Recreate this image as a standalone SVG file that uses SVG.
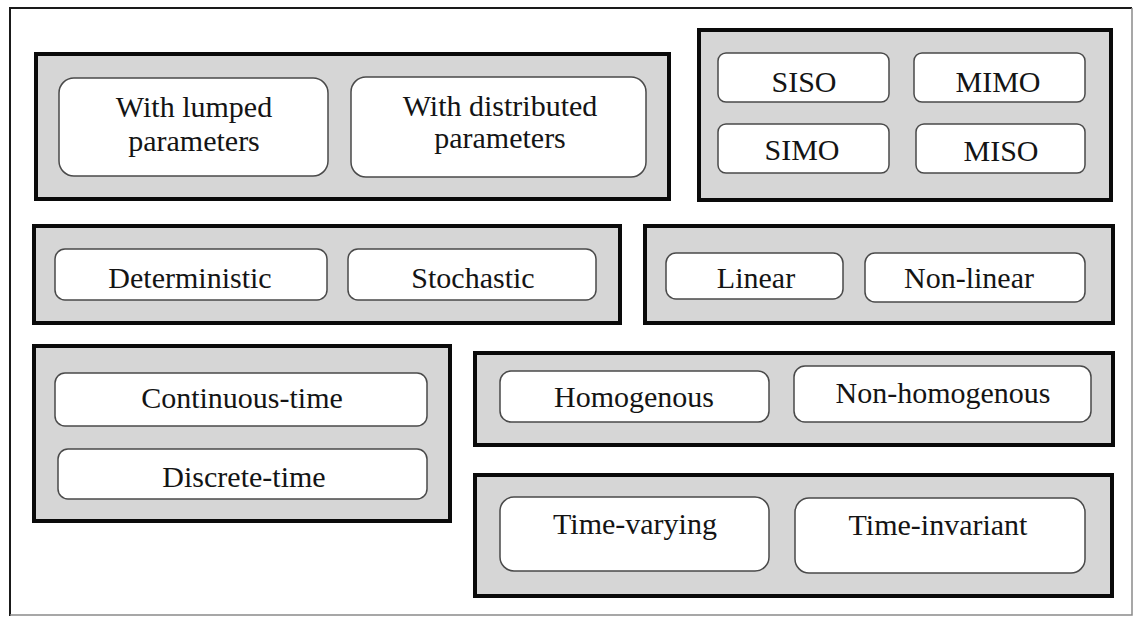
<svg xmlns="http://www.w3.org/2000/svg" width="1136" height="618" viewBox="0 0 1136 618">
  <style>
    .frame-dark { stroke: #1a1a1a; stroke-width: 2; fill: none; }
    .frame-light { stroke: #8a8a8a; stroke-width: 1.5; fill: none; }
    .group { fill: #d6d6d6; stroke: #0a0a0a; stroke-width: 4; }
    .item { fill: #ffffff; stroke: #4a4a4a; stroke-width: 1.5; }
    text { font-family: 'Liberation Serif', 'Times New Roman', serif; font-size: 30px; fill: #141414; text-anchor: middle; }
  </style>

  <rect x="0" y="0" width="1136" height="618" fill="#ffffff"/>

  <!-- outer frame -->
  <g id="frame">
    <path class="frame-dark" d="M10,616 L10,8 L1132,8"/>
    <path class="frame-light" d="M1132,8 L1132,615 L10,615"/>
  </g>

  <!-- parameter type -->
  <g id="group-parameters">
    <rect class="group" x="36" y="54" width="633" height="145"/>
    <g id="node-lumped">
      <rect class="item" x="59" y="78" width="269" height="98" rx="15"/>
      <text x="194" y="117">With lumped</text>
      <text x="194" y="151">parameters</text>
    </g>
    <g id="node-distributed">
      <rect class="item" x="351" y="77" width="295" height="100" rx="15"/>
      <text x="500" y="116">With distributed</text>
      <text x="500" y="148">parameters</text>
    </g>
  </g>

  <!-- input / output count -->
  <g id="group-io">
    <rect class="group" x="699" y="30" width="412" height="170"/>
    <g id="node-siso">
      <rect class="item" x="718" y="53" width="171" height="49" rx="8"/>
      <text x="804" y="92">SISO</text>
    </g>
    <g id="node-mimo">
      <rect class="item" x="914" y="53" width="171" height="49" rx="8"/>
      <text x="998" y="92">MIMO</text>
    </g>
    <g id="node-simo">
      <rect class="item" x="718" y="124" width="171" height="49" rx="8"/>
      <text x="802" y="160">SIMO</text>
    </g>
    <g id="node-miso">
      <rect class="item" x="916" y="124" width="169" height="49" rx="8"/>
      <text x="1001" y="161">MISO</text>
    </g>
  </g>

  <!-- randomness -->
  <g id="group-randomness">
    <rect class="group" x="34" y="226" width="586" height="97"/>
    <g id="node-deterministic">
      <rect class="item" x="55" y="249" width="272" height="51" rx="10"/>
      <text x="190" y="288">Deterministic</text>
    </g>
    <g id="node-stochastic">
      <rect class="item" x="348" y="249" width="248" height="51" rx="10"/>
      <text x="473" y="288">Stochastic</text>
    </g>
  </g>

  <!-- linearity -->
  <g id="group-linearity">
    <rect class="group" x="645" y="226" width="468" height="97"/>
    <g id="node-linear">
      <rect class="item" x="666" y="253" width="177" height="46" rx="10"/>
      <text x="756" y="288">Linear</text>
    </g>
    <g id="node-nonlinear">
      <rect class="item" x="865" y="253" width="220" height="49" rx="10"/>
      <text x="969" y="288">Non-linear</text>
    </g>
  </g>

  <!-- time domain -->
  <g id="group-time-domain">
    <rect class="group" x="34" y="346" width="416" height="175"/>
    <g id="node-continuous">
      <rect class="item" x="55" y="373" width="372" height="53" rx="10"/>
      <text x="242" y="408">Continuous-time</text>
    </g>
    <g id="node-discrete">
      <rect class="item" x="58" y="449" width="369" height="50" rx="10"/>
      <text x="244" y="487">Discrete-time</text>
    </g>
  </g>

  <!-- homogeneity -->
  <g id="group-homogeneity">
    <rect class="group" x="475" y="353" width="638" height="92"/>
    <g id="node-homogenous">
      <rect class="item" x="500" y="371" width="269" height="51" rx="11"/>
      <text x="634" y="407">Homogenous</text>
    </g>
    <g id="node-nonhomogenous">
      <rect class="item" x="794" y="366" width="297" height="56" rx="11"/>
      <text x="943" y="403">Non-homogenous</text>
    </g>
  </g>

  <!-- time dependence -->
  <g id="group-time-dependence">
    <rect class="group" x="475" y="475" width="637" height="121"/>
    <g id="node-varying">
      <rect class="item" x="500" y="497" width="269" height="74" rx="14"/>
      <text x="635" y="534">Time-varying</text>
    </g>
    <g id="node-invariant">
      <rect class="item" x="795" y="498" width="290" height="75" rx="14"/>
      <text x="938" y="535">Time-invariant</text>
    </g>
  </g>

  <!-- no connectors in this layout -->
  <g id="connectors"/>
</svg>
